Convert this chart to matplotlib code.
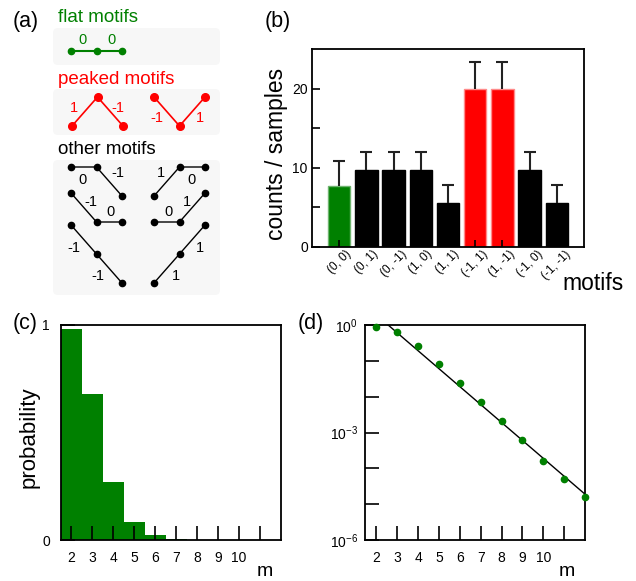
import matplotlib.pyplot as plt
import matplotlib.patches as mpatches
import numpy as np

plt.rcParams['font.family'] = ['Liberation Sans', 'DejaVu Sans']
plt.rcParams['mathtext.fontset'] = 'custom'
plt.rcParams['mathtext.rm'] = 'Liberation Sans'

GREEN = '#008000'
RED = '#ff0000'

# motif diagrams (a): step pairs
flat_motifs = [(0, 0)]
peaked_motifs = [(1, -1), (-1, 1)]
other_left = [(0, -1), (-1, 0), (-1, -1)]
other_right = [(1, 0), (0, 1), (1, 1)]

# (b) counts per motif
motif_labels = ['(0, 0)', '(0, 1)', '(0, -1)', '(1, 0)', '(1, 1)',
                '(-1, 1)', '(1, -1)', '(-1, 0)', '(-1, -1)']
counts = [7.7, 9.7, 9.7, 9.7, 5.6, 20.0, 20.0, 9.7, 5.5]
counts_err = [3.1, 2.3, 2.3, 2.3, 2.2, 3.3, 3.3, 2.3, 2.3]
bar_colors = [GREEN, 'black', 'black', 'black', 'black', RED, RED, 'black', 'black']
bar_edges = ['#6fb46f', 'black', 'black', 'black', 'black',
             '#ff8a8a', '#ff8a8a', 'black', 'black']

# (c) probability histogram
m_hist = [2, 3, 4, 5, 6, 7, 8]
prob_hist = [0.98, 0.68, 0.27, 0.085, 0.023, 0.006, 0.0015]

# (d) log plot
m_pts = [2, 3, 4, 5, 6, 7, 8, 9, 10, 11, 12]
prob_pts = [0.9, 0.65, 0.26, 0.082, 0.0246, 0.0070, 0.00205, 6.0e-4, 1.6e-4, 5.0e-5, 1.55e-5]
fit_m = [2.56, 12.0]
fit_p = [1.0, 1.9e-5]

W, H = 636, 581
fig = plt.figure(figsize=(W / 100, H / 100), dpi=100)


def px_axes(l, t, r, b):
    return fig.add_axes([l / W, 1 - b / H, (r - l) / W, (b - t) / H])


STEP_X, STEP_Y = 25.5, 29.0


def draw_motif(ax, x0, top, steps, color, offsets, lw=1.0, ms=4.5):
    h = np.concatenate([[0], np.cumsum(steps)])
    xs = x0 + STEP_X * np.arange(3)
    ys = top + (h.max() - h) * STEP_Y
    ax.plot(xs, ys, '-o', color=color, lw=lw, ms=ms)
    for i, (s, (dx, dy)) in enumerate(zip(steps, offsets)):
        mx = (xs[i] + xs[i + 1]) / 2
        my = (ys[i] + ys[i + 1]) / 2
        ax.text(mx + dx, my + dy, str(s), color=color, fontsize=10.5,
                ha='center', va='center')


# ---- (a) motifs
axa = px_axes(0, 0, 260, 300)
axa.set_xlim(0, 260)
axa.set_ylim(300, 0)
axa.axis('off')
for (l, t, r, b) in [(53, 28, 220, 65), (53, 89, 220, 135), (53, 160, 220, 295)]:
    axa.add_patch(mpatches.FancyBboxPatch((l, t), r - l, b - t,
                  boxstyle='round,pad=0,rounding_size=5', fc='#f7f7f7', ec='none'))
axa.text(58, 17, 'flat motifs', color=GREEN, fontsize=13.5, va='center')
axa.text(58, 79, 'peaked motifs', color=RED, fontsize=13.5, va='center')
axa.text(58, 149, 'other motifs', color='black', fontsize=13.5, va='center')

draw_motif(axa, 71, 51, flat_motifs[0], GREEN, [(-1, -11), (2.5, -11)], lw=1.5, ms=4.5)
draw_motif(axa, 72, 97, peaked_motifs[0], RED, [(-11, -4), (8, -4)], lw=1.2, ms=5.5)
draw_motif(axa, 154, 97, peaked_motifs[1], RED, [(-10, 6), (8, 6)], lw=1.2, ms=5.5)

left_offsets = [[(-1, 13), (8.5, -8.5)], [(7, -5.5), (1.5, -10)], [(-10, 8.5), (-11.5, 7.5)]]
right_offsets = [[(-5.5, -8.5), (-0.5, 13)], [(1.5, -10), (-5.5, -5.5)], [(9.5, 7.5), (7.5, 8.5)]]
tops = [167, 193, 225]
for steps, top, off in zip(other_left, tops, left_offsets):
    draw_motif(axa, 71, top, steps, 'black', off)
for steps, top, off in zip(other_right, tops, right_offsets):
    draw_motif(axa, 154, top, steps, 'black', off)

# ---- (b) bar chart
axb = px_axes(312, 49, 584, 247)
x = np.arange(1, len(counts) + 1)
axb.bar(x, counts, width=0.82, color=bar_colors, edgecolor=bar_edges, linewidth=1.0,
        zorder=1)
eb = axb.errorbar(x, counts, yerr=[np.zeros(len(counts)), counts_err], fmt='none',
                  ecolor='#222222', elinewidth=1.5, capsize=4, capthick=1.5, zorder=3)
eb[1][0].set_visible(False)  # no cap at the bar top
axb.set_xlim(0, 10)
axb.set_ylim(0, 25)
axb.set_yticks([0, 5, 10, 15, 20])
axb.set_yticklabels(['0', '', '10', '', '20'])
axb.set_xticks(x)
axb.set_xticklabels(motif_labels, rotation=45, fontsize=8.5)
axb.tick_params(axis='y', direction='in', length=6, width=1.2, labelsize=10, pad=3)
axb.tick_params(axis='x', direction='in', length=5, width=1.2, pad=1)
for s in axb.spines.values():
    s.set_linewidth(1.3)
    s.set_zorder(4)
fig.text(277 / W, 1 - 154 / H, 'counts / samples', rotation=90, fontsize=16.5,
         ha='center', va='center')
fig.text(562 / W, 1 - 290 / H, 'motifs', fontsize=16.5, ha='left', va='baseline')

# ---- (c) histogram
axc = px_axes(61, 325, 281, 540)
axc.bar(m_hist, prob_hist, width=1.0, color=GREEN, zorder=1)
axc.set_xlim(1.5, 12)
axc.set_ylim(0, 1)
axc.set_yticks([0, 1])
axc.set_xticks(range(2, 12))
axc.set_xticklabels([str(v) for v in range(2, 11)] + [''])
axc.tick_params(direction='in', length=10, width=1.2, labelsize=10, pad=8)
for s in axc.spines.values():
    s.set_linewidth(1.3)
fig.text(29 / W, 1 - 437 / H, 'probability', rotation=90, fontsize=16,
         ha='center', va='center')
fig.text(265 / W, 1 - 576 / H, 'm', fontsize=14, ha='center', va='baseline')

# ---- (d) log plot
axd = px_axes(365, 325, 585, 540)
axd.plot(fit_m, fit_p, color='black', lw=1.0, zorder=2)
axd.plot(m_pts, prob_pts, 'o', color=GREEN, ms=4.5, zorder=3, clip_on=False)
axd.set_yscale('log')
axd.set_xlim(1.45, 12)
axd.set_ylim(1e-6, 1)
decades = [10.0 ** k for k in range(-6, 1)]
axd.set_yticks(decades)
axd.set_yticklabels([r'$\mathregular{10^{%d}}$' % k if k % 3 == 0 else ''
                     for k in range(-6, 1)])
axd.minorticks_off()
axd.set_xticks(range(2, 12))
axd.set_xticklabels([str(v) for v in range(2, 11)] + [''])
axd.tick_params(direction='in', length=10, width=1.2, labelsize=10, pad=8)
axd.tick_params(axis='y', pad=5)
for s in axd.spines.values():
    s.set_linewidth(1.3)
fig.text(567 / W, 1 - 576 / H, 'm', fontsize=14, ha='center', va='baseline')

# panel letters
for lab, px, py in [('(a)', 13, 22), ('(b)', 265, 22), ('(c)', 13, 323), ('(d)', 298, 323)]:
    fig.text(px / W, 1 - py / H, lab, fontsize=15.5, ha='left', va='center')

fig.savefig('out.png', dpi=100)
